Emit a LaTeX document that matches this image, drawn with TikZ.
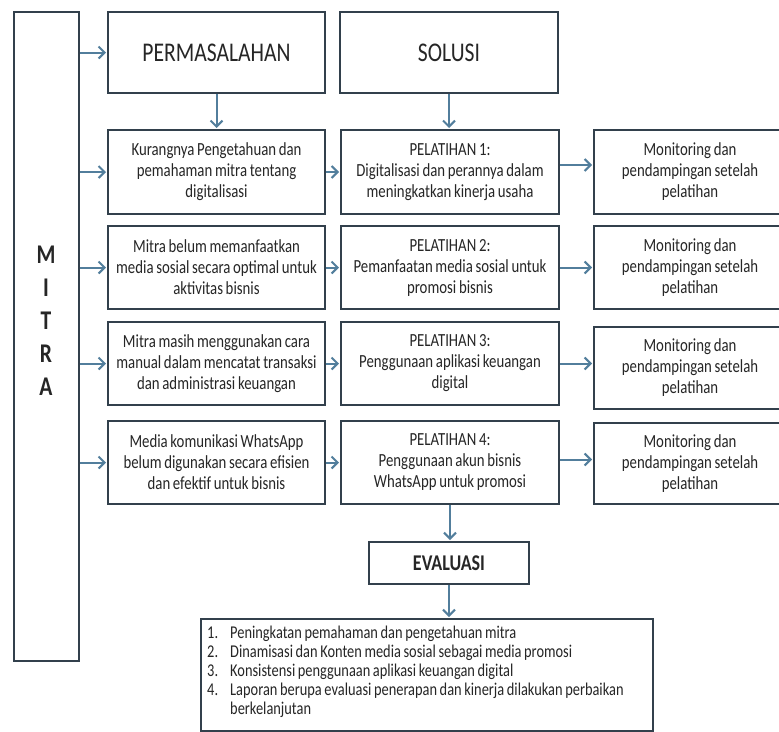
\documentclass[tikz,border=0pt]{standalone}
\usepackage{fontspec}
\setmainfont{Carlito}[FakeStretch=0.8,WordSpace=0.8]
\usetikzlibrary{positioning,arrows.meta}
\definecolor{boxline}{RGB}{50,64,76}
\definecolor{flowline}{RGB}{82,126,156}
\definecolor{txt}{RGB}{38,38,38}
\tikzset{%
box/.style={draw=boxline,line width=2pt,rectangle,anchor=north west,align=center,inner sep=2pt,text=txt,font=\fontsize{18.5}{21}\selectfont},
headbox/.style={box,font=\fontsize{27}{30}\selectfont},
evalbox/.style={box,font=\bfseries\fontsize{22.5}{26}\selectfont},
listtext/.style={anchor=north west,align=left,inner sep=0pt,text=txt,font=\fontsize{18}{19}\selectfont},
flow/.style={draw=flowline,line width=2pt,shorten >=1pt,-{Straight Barb[length=6pt,width=12pt]}}
}
\begin{document}
\begin{tikzpicture}[x=1pt,y=-1pt]
    \useasboundingbox[fill=white] (0,0) rectangle (779,731);

    % left column
    \node[box,minimum width=65pt,minimum height=649pt] (mitra) at (13,11) {};
    \node[text=txt,align=center,font=\bfseries\fontsize{27}{33}\selectfont] (mitralbl) at (46,321) {M\\I\\T\\R\\A};

    % headers
    \node[headbox,minimum width=217pt,minimum height=81pt] (perm) at (107,11) {PERMASALAHAN};
    \node[headbox,minimum width=218pt,minimum height=81pt] (sol) at (339,11) {SOLUSI};

    % problems
    \node[box,minimum width=217pt,minimum height=84pt] (p1) at (107,129) {Kurangnya Pengetahuan dan\\pemahaman mitra tentang\\digitalisasi};
    \node[box,minimum width=217pt,minimum height=83pt] (p2) at (107,225) {Mitra belum memanfaatkan\\media sosial secara optimal untuk\\aktivitas bisnis};
    \node[box,minimum width=217pt,minimum height=83pt] (p3) at (107,321) {Mitra masih menggunakan cara\\manual dalam mencatat transaksi\\dan administrasi keuangan};
    \node[box,minimum width=217pt,minimum height=83pt] (p4) at (107,420) {Media komunikasi WhatsApp\\belum digunakan secara efisien\\dan efektif untuk bisnis};

    % solutions
    \node[box,minimum width=218pt,minimum height=84pt] (s1) at (340,129) {PELATIHAN 1:\\Digitalisasi dan perannya dalam\\meningkatkan kinerja usaha};
    \node[box,minimum width=218pt,minimum height=83pt] (s2) at (340,225) {PELATIHAN 2:\\Pemanfaatan media sosial untuk\\promosi bisnis};
    \node[box,minimum width=218pt,minimum height=83pt] (s3) at (340,321) {PELATIHAN 3:\\Penggunaan aplikasi keuangan\\digital};
    \node[box,minimum width=218pt,minimum height=83pt] (s4) at (340,420) {PELATIHAN 4:\\Penggunaan akun bisnis\\WhatsApp untuk promosi};

    % monitoring
    \node[box,minimum width=192pt,minimum height=84pt] (m1) at (593,129) {Monitoring dan\\pendampingan setelah\\pelatihan};
    \node[box,minimum width=192pt,minimum height=83pt] (m2) at (593,225) {Monitoring dan\\pendampingan setelah\\pelatihan};
    \node[box,minimum width=192pt,minimum height=82pt] (m3) at (593,326) {Monitoring dan\\pendampingan setelah\\pelatihan};
    \node[box,minimum width=192pt,minimum height=81pt] (m4) at (593,422) {Monitoring dan\\pendampingan setelah\\pelatihan};

    % evaluation
    \node[evalbox,minimum width=160pt,minimum height=42pt] (eval) at (368,541) {EVALUASI};
    \node[box,minimum width=452pt,minimum height=112pt] (list) at (200,618) {};
    \node[listtext] (listlbl) at (207,626) {%
        \makebox[23pt][l]{1.}Peningkatan pemahaman dan pengetahuan mitra\\
        \makebox[23pt][l]{2.}Dinamisasi dan Konten media sosial sebagai media promosi\\
        \makebox[23pt][l]{3.}Konsistensi penggunaan aplikasi keuangan digital\\
        \makebox[23pt][l]{4.}Laporan berupa evaluasi penerapan dan kinerja dilakukan perbaikan\\
        \hspace*{23pt}berkelanjutan};

    \draw[flow] (mitra.east |- perm.west) -- (perm.west);
    \draw[flow] (mitra.east |- p1.west) -- (p1.west);
    \draw[flow] (mitra.east |- p2.west) -- (p2.west);
    \draw[flow] (mitra.east |- p3.west) -- (p3.west);
    \draw[flow] (mitra.east |- p4.west) -- (p4.west);

    \draw[flow] (perm.south) -- (p1.north);
    \draw[flow] (sol.south) -- (sol.south |- s1.north);

    \draw[flow] (p1.east) -- (s1.west);
    \draw[flow] (p2.east) -- (s2.west);
    \draw[flow] (p3.east) -- (s3.west);
    \draw[flow] (p4.east) -- (s4.west);

    \coordinate (o1) at ([yshift=7pt]s1.east);
    \coordinate (o4) at ([yshift=3pt]s4.east);
    \draw[flow] (o1) -- (o1 -| m1.west);
    \draw[flow] (s2.east) -- (s2.east -| m2.west);
    \draw[flow] (s3.east) -- (s3.east -| m3.west);
    \draw[flow] (o4) -- (o4 -| m4.west);

    \draw[flow] (s4.south) -- (s4.south |- eval.north);
    \draw[flow] (eval.south) -- (eval.south |- list.north);
\end{tikzpicture}
\end{document}
